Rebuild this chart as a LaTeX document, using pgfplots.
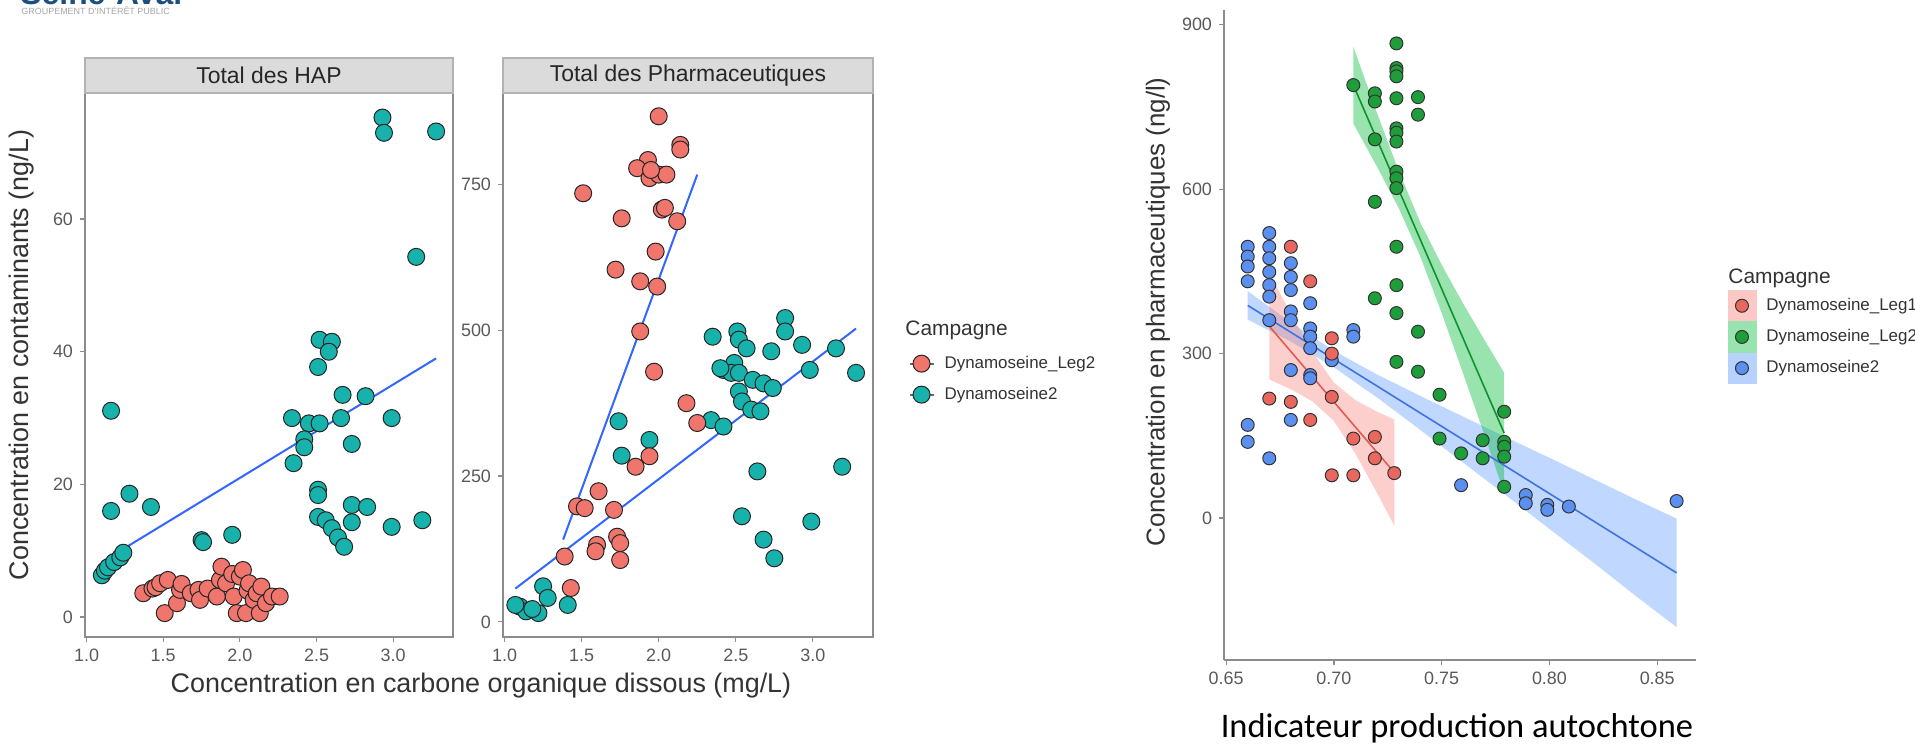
\documentclass[border=0pt]{standalone}
\usepackage{fontspec}
\setmainfont{Liberation Sans}
\newfontfamily\carlito{Carlito}
\usepackage{pgfplots}
\pgfplotsset{compat=1.18}

\definecolor{hapred}{HTML}{F0756C}
\definecolor{hapteal}{HTML}{17B2AB}
\definecolor{fitblue}{HTML}{3366FF}
\definecolor{legred}{HTML}{E8675F}
\definecolor{leggreen}{HTML}{1E9E3A}
\definecolor{dynblue}{HTML}{5B8FF0}
\definecolor{ribred}{HTML}{F8766D}
\definecolor{ribgreen}{HTML}{00BA38}
\definecolor{ribblue}{HTML}{619CFF}
\definecolor{linered}{HTML}{E35A50}
\definecolor{linegreen}{HTML}{10922E}
\definecolor{lineblue}{HTML}{3E73E0}
\definecolor{ticktext}{HTML}{595959}
\definecolor{axisgrey}{HTML}{8C8C8C}
\definecolor{titletext}{HTML}{333333}
\definecolor{logoblue}{HTML}{1D4F7C}

\pgfplotsset{
  panel/.style={
    scale only axis,
    axis line style={axisgrey, line width=0.6bp},
    tick style={axisgrey, line width=0.6bp},
    tick align=outside,
    major tick length=2.5bp,
    xtick pos=lower, ytick pos=left,
    ticklabel style={font=\fontsize{9}{10}\selectfont, text=ticktext},
    /pgf/number format/assume math mode=true,
    legend cell align=left,
  },
  bigdot/.style={only marks, mark=*, mark size=4.25bp,
    mark options={fill=#1, draw=black!85, line width=0.5bp}},
  smalldot/.style={only marks, mark=*, mark size=3.25bp,
    mark options={fill=#1, draw=black!80, line width=0.5bp}},
}

\begin{document}
\begin{tikzpicture}
\useasboundingbox (0,0) rectangle (957.5bp,374bp);

% header logo, cut by the top edge
\begin{scope}
\clip (0,0) rectangle (957.5bp,374bp);
\node[anchor=base west, inner sep=0pt, text=logoblue,
      font=\bfseries\fontsize{16}{16}\selectfont] at (10bp,371.5bp) {Seine-Aval};
\node[anchor=base west, inner sep=0pt, text=gray!70,
      font=\fontsize{4.5}{5}\selectfont] at (10.5bp,366.5bp) {GROUPEMENT D'INTÉRÊT PUBLIC};
\end{scope}

% ---------- Total des HAP ----------
\begin{axis}[panel,
  at={(42.5bp,55.5bp)}, anchor=south west,
  width=184bp, height=272bp,
  xmin=0.99, xmax=3.39, ymin=-3, ymax=79,
  xtick={1,1.5,2,2.5,3},
  xticklabel style={/pgf/number format/.cd, fixed, fixed zerofill, precision=1},
  ytick={0,20,40,60},
]
\addplot[bigdot=hapteal] coordinates {
(2.93,75.3)(2.94,73.0)(3.28,73.2)(3.15,54.3)(2.52,41.8)(2.60,41.5)(2.58,40.0)(2.51,37.7)
(2.67,33.5)(2.82,33.3)(1.16,31.1)(2.34,30.0)(2.45,29.2)(2.52,29.2)(2.66,30.0)(2.99,30.0)
(2.42,26.8)(2.42,25.6)(2.73,26.1)(2.35,23.2)(2.51,19.2)(2.51,18.4)(1.28,18.6)(1.16,16.0)
(1.42,16.6)(2.51,15.1)(2.56,14.6)(2.60,13.4)(2.64,12.0)(2.68,10.6)(2.73,16.9)(2.83,16.6)
(2.73,14.3)(2.99,13.6)(3.19,14.6)(1.75,11.6)(1.76,11.3)(1.95,12.4)(1.10,6.3)(1.12,7.0)
(1.14,7.5)(1.18,8.3)(1.22,9.0)(1.24,9.7)
};
\addplot[bigdot=hapred] coordinates {
(1.37,3.6)(1.43,4.3)(1.45,4.5)(1.48,5.1)(1.53,5.6)(1.51,0.6)(1.59,2.1)(1.61,4.1)(1.62,5.0)
(1.68,3.6)(1.73,4.1)(1.74,2.6)(1.79,4.3)(1.85,3.1)(1.87,5.6)(1.88,7.6)(1.91,5.1)(1.95,6.5)
(1.96,3.1)(1.98,0.6)(2.00,6.1)(2.02,7.1)(2.04,0.6)(2.05,4.0)(2.06,5.1)(2.09,2.6)(2.11,3.6)
(2.13,0.6)(2.14,4.6)(2.17,2.1)(2.21,3.1)(2.26,3.1)
};
\addplot[fitblue, line width=1bp] coordinates {(1.10,8.3)(3.28,39.0)};
\end{axis}

% ---------- Total des Pharmaceutiques ----------
\begin{axis}[panel,
  at={(251.5bp,55.5bp)}, anchor=south west,
  width=185bp, height=272bp,
  xmin=0.99, xmax=3.39, ymin=-26, ymax=907,
  xtick={1,1.5,2,2.5,3},
  xticklabel style={/pgf/number format/.cd, fixed, fixed zerofill, precision=1},
  ytick={0,250,500,750},
  legend style={at={(axis description cs:1.095,0.474)}, anchor=west,
    draw=none, fill=none, inner sep=0pt, row sep=6.5bp, column sep=5bp,
    font=\fontsize{8.5}{9}\selectfont, text=titletext,
    nodes={inner sep=0pt}},
]
\addlegendimage{legend image code/.code={
  \draw[black!60, line width=1bp] (0bp,0bp) -- (12bp,0bp);
  \filldraw[fill=hapred, draw=black!85, line width=0.5bp] (6bp,0bp) circle[radius=4.25bp];}}
\addlegendentry{Dynamoseine\_Leg2}
\addlegendimage{legend image code/.code={
  \draw[black!60, line width=1bp] (0bp,0bp) -- (12bp,0bp);
  \filldraw[fill=hapteal, draw=black!85, line width=0.5bp] (6bp,0bp) circle[radius=4.25bp];}}
\addlegendentry{Dynamoseine2}
\addplot[bigdot=hapteal, forget plot] coordinates {
(2.82,521)(2.82,498)(2.35,489)(2.51,498)(2.52,484)(2.57,469)(2.73,464)(2.93,475)(3.15,469)
(2.98,432)(3.28,427)(2.42,432)(2.49,444)(2.47,427)(2.40,435)(2.52,427)(2.61,415)(2.68,409)
(2.74,401)(2.52,395)(2.54,378)(2.60,364)(2.66,361)(2.34,346)(2.42,335)(3.19,266)(2.64,258)
(2.54,181)(2.99,172)(2.68,141)(2.75,109)(1.74,344)(1.94,312)(1.76,285)(1.25,61)(1.28,41)
(1.41,29)(1.10,26)(1.14,18)(1.22,15)(1.07,29)(1.18,22)
};
\addplot[bigdot=hapred, forget plot] coordinates {
(2.00,867)(2.14,818)(2.14,810)(1.93,792)(1.86,778)(1.94,761)(2.00,767)(2.05,767)(1.95,775)
(1.51,735)(1.76,692)(2.02,707)(2.04,710)(2.12,687)(1.98,635)(1.72,604)(1.88,584)(1.99,575)
(1.88,498)(1.97,429)(2.18,375)(2.25,341)(1.94,284)(1.85,266)(1.61,224)(1.47,198)(1.52,195)
(1.71,192)(1.60,132)(1.59,121)(1.73,146)(1.75,135)(1.75,106)(1.39,112)(1.43,58)
};
\addplot[fitblue, line width=1bp, forget plot] coordinates {(1.38,141)(2.25,767)};
\addplot[fitblue, line width=1bp, forget plot] coordinates {(1.07,57)(3.28,503)};
\end{axis}

% facet strips
\draw[fill=gray!28, draw=gray!60, line width=0.6bp] (42.5bp,327.5bp) rectangle (226.5bp,345bp);
\node[font=\fontsize{11.5}{12}\selectfont, text=black!85] at (134.5bp,336.25bp) {Total des HAP};
\draw[fill=gray!28, draw=gray!60, line width=0.6bp] (251.5bp,327.5bp) rectangle (436.5bp,345bp);
\node[font=\fontsize{11.5}{12}\selectfont, text=black!85] at (344bp,336.25bp) {Total des Pharmaceutiques};

% titles of the faceted figure
\node[rotate=90, font=\fontsize{13.5}{14}\selectfont, text=titletext] at (11bp,196.5bp)
  {Concentration en contaminants (ng/L)};
\node[font=\fontsize{13.5}{14}\selectfont, text=titletext] at (240.5bp,31bp)
  {Concentration en carbone organique dissous (mg/L)};
\node[anchor=west, inner sep=0pt, font=\fontsize{10.5}{11}\selectfont, text=titletext]
  at (452.5bp,209bp) {Campagne};

% ---------- Indicateur production autochtone ----------
\begin{axis}[panel,
  at={(612bp,44bp)}, anchor=south west,
  width=236bp, height=325bp,
  axis x line*=bottom, axis y line*=left,
  xmin=0.649, xmax=0.868, ymin=-259, ymax=927,
  xtick={0.65,0.70,0.75,0.80,0.85},
  xticklabel style={/pgf/number format/.cd, fixed, fixed zerofill, precision=2},
  ytick={0,300,600,900},
  legend style={at={(axis description cs:1.066,0.497)}, anchor=west,
    draw=none, fill=none, inner sep=0pt, row sep=0bp, column sep=5bp,
    font=\fontsize{8.5}{9}\selectfont, text=titletext,
    nodes={inner sep=0pt}},
]
\addlegendimage{legend image code/.code={
  \fill[ribred!40] (0bp,-7.6bp) rectangle (14bp,7.6bp);
  \filldraw[fill=legred, draw=black!80, line width=0.5bp] (7bp,0bp) circle[radius=3.25bp];}}
\addlegendentry{Dynamoseine\_Leg1}
\addlegendimage{legend image code/.code={
  \fill[ribgreen!40] (0bp,-7.6bp) rectangle (14bp,7.6bp);
  \filldraw[fill=leggreen, draw=black!80, line width=0.5bp] (7bp,0bp) circle[radius=3.25bp];}}
\addlegendentry{Dynamoseine\_Leg2}
\addlegendimage{legend image code/.code={
  \fill[ribblue!45] (0bp,-7.6bp) rectangle (14bp,7.6bp);
  \filldraw[fill=dynblue, draw=black!80, line width=0.5bp] (7bp,0bp) circle[radius=3.25bp];}}
\addlegendentry{Dynamoseine2}

% confidence bands
\addplot[fill=ribblue, fill opacity=0.4, draw=none, forget plot] coordinates {
(0.660,414)(0.680,357)(0.700,305)(0.720,262)(0.740,223)(0.760,185)(0.780,147)(0.800,110)
(0.820,72)(0.840,34)(0.859,-1)(0.859,-199)(0.840,-142)(0.820,-80)(0.800,-20)(0.780,41)
(0.760,101)(0.740,161)(0.720,220)(0.700,275)(0.680,322)(0.660,362)
} -- cycle;
\addplot[fill=ribred, fill opacity=0.35, draw=none, forget plot] coordinates {
(0.670,447)(0.680,373)(0.690,303)(0.700,247)(0.710,215)(0.720,194)(0.728,180)
(0.728,-14)(0.720,46)(0.710,117)(0.700,177)(0.690,213)(0.680,235)(0.670,253)
} -- cycle;
\addplot[fill=ribgreen, fill opacity=0.4, draw=none, forget plot] coordinates {
(0.709,860)(0.720,739)(0.730,634)(0.740,540)(0.750,462)(0.760,391)(0.770,324)(0.779,265)
(0.779,45)(0.770,150)(0.760,263)(0.750,374)(0.740,478)(0.730,566)(0.720,641)(0.709,720)
} -- cycle;

% fitted lines
\addplot[lineblue, line width=0.8bp, forget plot] coordinates {(0.660,388)(0.859,-100)};
\addplot[linered, line width=0.8bp, forget plot] coordinates {(0.670,350)(0.728,83)};
\addplot[linegreen, line width=0.8bp, forget plot] coordinates {(0.709,790)(0.779,155)};

% observations
\addplot[smalldot=dynblue, forget plot] coordinates {
(0.660,495)(0.660,477)(0.660,459)(0.660,432)(0.670,520)(0.670,495)(0.670,474)(0.670,449)
(0.670,425)(0.670,404)(0.670,361)(0.680,465)(0.680,440)(0.680,416)(0.680,377)(0.680,361)
(0.689,392)(0.689,346)(0.689,331)(0.689,310)(0.699,288)(0.709,343)(0.709,331)(0.680,270)
(0.689,261)(0.689,255)(0.660,170)(0.660,139)(0.670,109)(0.680,179)(0.759,60)(0.789,42)
(0.789,27)(0.799,24)(0.799,15)(0.809,21)(0.859,31)
};
\addplot[smalldot=legred, forget plot] coordinates {
(0.670,218)(0.680,212)(0.689,179)(0.699,221)(0.709,145)(0.719,148)(0.719,109)(0.699,78)
(0.709,78)(0.728,82)(0.680,495)(0.689,432)(0.699,328)(0.699,300)
};
\addplot[smalldot=leggreen, forget plot] coordinates {
(0.729,866)(0.729,821)(0.729,815)(0.729,806)(0.709,790)(0.719,775)(0.719,760)(0.729,766)
(0.739,768)(0.739,736)(0.729,711)(0.729,703)(0.729,687)(0.719,691)(0.729,632)(0.729,620)
(0.729,602)(0.719,577)(0.729,495)(0.729,425)(0.719,401)(0.729,374)(0.739,340)(0.729,285)
(0.739,267)(0.749,225)(0.749,145)(0.759,118)(0.769,142)(0.769,109)(0.779,194)(0.779,139)
(0.779,130)(0.779,112)(0.779,57)
};
\end{axis}

\node[rotate=90, font=\fontsize{13}{14}\selectfont, text=titletext] at (579bp,218bp)
  {Concentration en pharmaceutiques (ng/l)};
\node[anchor=west, inner sep=0pt, font=\fontsize{10.5}{11}\selectfont, text=titletext]
  at (864bp,235bp) {Campagne};
\node[font=\carlito\fontsize{17.3}{18}\selectfont, text=black] at (728.5bp,10bp)
  {Indicateur production autochtone};
\end{tikzpicture}
\end{document}
